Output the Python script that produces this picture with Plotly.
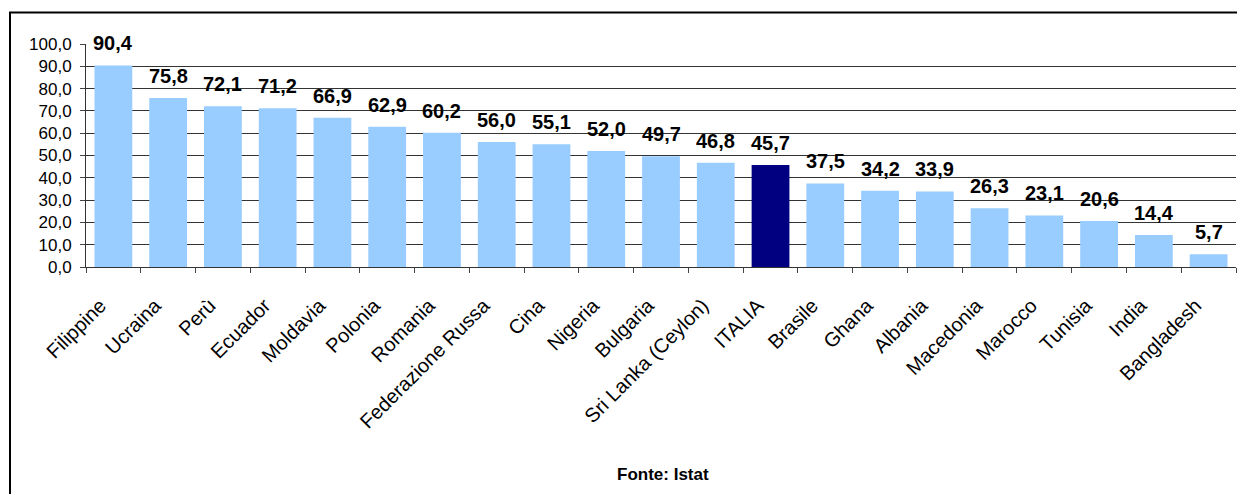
import plotly.graph_objects as go

countries = ["Filippine", "Ucraina", "Perù", "Ecuador", "Moldavia", "Polonia", "Romania",
             "Federazione Russa", "Cina", "Nigeria", "Bulgaria", "Sri Lanka (Ceylon)", "ITALIA",
             "Brasile", "Ghana", "Albania", "Macedonia", "Marocco", "Tunisia", "India", "Bangladesh"]
values = [90.4, 75.8, 72.1, 71.2, 66.9, 62.9, 60.2, 56.0, 55.1, 52.0, 49.7, 46.8, 45.7,
          37.5, 34.2, 33.9, 26.3, 23.1, 20.6, 14.4, 5.7]
highlight = "ITALIA"
source_note = "Fonte: Istat"

colors = ["#000080" if c == highlight else "#99CCFF" for c in countries]
font = "Liberation Sans, Arial, sans-serif"

W, H = 1237, 494
L, R, T, B = 86, 1, 43.5, 227
pw, ph = W - L - R, H - T - B

fig = go.Figure(go.Bar(x=countries, y=values, marker=dict(color=colors, line=dict(width=0)),
                       width=0.69, hoverinfo="skip"))

for c, v in zip(countries, values):
    fig.add_annotation(x=c, y=v, text=f"{v:.1f}".replace(".", ","), showarrow=False,
                       yanchor="bottom", yshift=9,
                       font=dict(family=font, size=20, color="black", weight="bold"))

fig.add_annotation(xref="paper", yref="paper", x=(663 - L) / pw, y=(H - B - 475) / ph,
                   text=source_note, showarrow=False, xanchor="center", yanchor="middle",
                   font=dict(family=font, size=17, color="black", weight="bold"))

fig.add_shape(type="rect", xref="paper", yref="paper",
              x0=(10 - L) / pw, x1=(1300 - L) / pw,
              y0=(H - B - 560) / ph, y1=(H - B - 12) / ph,
              line=dict(color="black", width=2), fillcolor="rgba(0,0,0,0)", layer="below")

fig.update_layout(
    width=W, height=H,
    margin=dict(l=L, r=R, t=T, b=B, autoexpand=False),
    paper_bgcolor="white", plot_bgcolor="white",
    separators=",.",
    showlegend=False,
    font=dict(family=font, color="black"),
)
fig.update_xaxes(type="category", range=[-0.5, len(countries) - 0.5], tickangle=-45,
                 tickfont=dict(size=20, family=font), showline=True, linecolor="#333",
                 linewidth=1, ticks="outside", tickson="boundaries", ticklen=5,
                 tickcolor="#444", showgrid=False, ticklabelstandoff=18, ticklabelshift=-13)
fig.update_yaxes(range=[0, 100], dtick=10, tickformat=".1f", tickfont=dict(size=17, family=font),
                 showline=True, linecolor="#333", linewidth=1, ticks="outside", ticklen=5,
                 tickcolor="#444", showgrid=True, gridcolor="#333", gridwidth=1, zeroline=False,
                 ticklabelstandoff=5)

fig.write_html("out.html", config={"displayModeBar": False},
               post_script="document.body.style.margin='0';document.body.style.overflow='hidden';")
